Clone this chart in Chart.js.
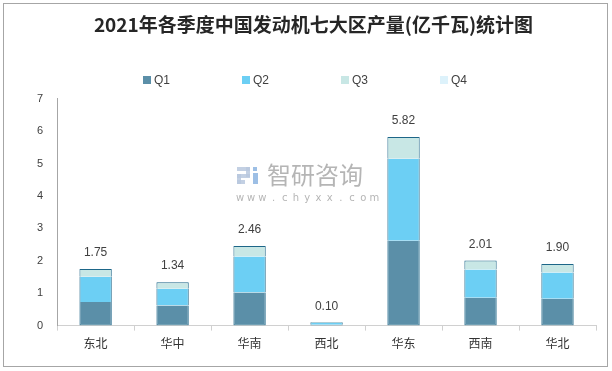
<!DOCTYPE html>
<html>
<head>
<meta charset="utf-8">
<script src="https://cdn.jsdelivr.net/npm/chart.js@4.4.1/dist/chart.umd.min.js"></script>
<style>
  html, body { margin: 0; padding: 0; background: #fff; }
  #wrap { width: 612px; height: 371px; position: relative; }
</style>
</head>
<body>
<div id="wrap"><canvas id="chart" width="612" height="371"></canvas></div>
<script>
// 2021年各季度 七大区 发动机产量 (亿千瓦)
const regions = ['东北', '华中', '华南', '西北', '华东', '西南', '华北'];
const q1 = [0.73, 0.62, 1.02, 0.03, 2.62, 0.86, 0.83];
const q2 = [0.78, 0.52, 1.11, 0.05, 2.53, 0.87, 0.81];
const q3 = [0.24, 0.20, 0.33, 0.02, 0.67, 0.28, 0.26];
const q4 = [0, 0, 0, 0, 0, 0, 0];
const totals = ['1.75', '1.34', '2.46', '0.10', '5.82', '2.01', '1.90'];
const yTicks = [0, 1, 2, 3, 4, 5, 6, 7];

const edge = '#1d6688';

// frame + watermark
const background = {
    id: 'background',
    beforeDraw(chart) {
        const ctx = chart.ctx;
        ctx.save();
        ctx.fillStyle = '#fff';
        ctx.fillRect(0, 0, chart.width, chart.height);
        ctx.strokeStyle = '#a6a6a6';
        ctx.lineWidth = 1;
        ctx.strokeRect(3.5, 3.5, 604, 363);
        // watermark logo (rough)
        ctx.fillStyle = 'rgba(185,200,222,0.85)';
        ctx.fillRect(237, 167, 13, 4);
        ctx.fillRect(246, 167, 4, 10);
        ctx.fillRect(237, 174, 13, 4);
        ctx.fillRect(237, 174, 4, 10);
        ctx.fillRect(237, 180, 8, 4);
        ctx.fillStyle = 'rgba(140,180,225,0.85)';
        ctx.fillRect(253, 167, 4, 4);
        ctx.fillRect(253, 173, 5, 11);
        ctx.fillStyle = 'rgba(150,150,150,0.7)';
        ctx.font = '24px "Noto Sans CJK SC"';
        ctx.textBaseline = 'middle';
        ctx.fillText('智研咨询', 267, 175);
        ctx.font = '10px "DejaVu Sans"';
        ctx.textAlign = 'center';
        const url = 'www.chyxx.com';
        for (let i = 0; i < url.length; i++) {
            ctx.fillText(url[i], 240 + i * 11.2, 198);
        }
        ctx.restore();
    }
};

// legend + total labels
const overlay = {
    id: 'overlay',
    afterDatasetsDraw(chart) {
        const ctx = chart.ctx;
        ctx.save();
        // legend
        ctx.font = '12px "Liberation Sans"';
        ctx.textBaseline = 'middle';
        ctx.textAlign = 'left';
        chart.data.datasets.forEach(function (ds, i) {
            const x = 143 + i * 99;
            ctx.fillStyle = ds.backgroundColor;
            ctx.fillRect(x, 76, 8, 8);
            ctx.fillStyle = '#404040';
            ctx.fillText(ds.label, x + 11, 80.5);
        });
        // totals
        const top = chart.getDatasetMeta(2).data;
        ctx.fillStyle = '#404040';
        ctx.font = '12px "Liberation Sans"';
        ctx.textAlign = 'center';
        top.forEach(function (bar, i) {
            ctx.fillText(totals[i], bar.x, bar.y - 16);
        });
        ctx.restore();
    }
};

new Chart(document.getElementById('chart'), {
    type: 'bar',
    data: {
        labels: regions,
        datasets: [
            {
                label: 'Q1', data: q1, backgroundColor: '#5b8fa8', borderColor: edge,
                borderWidth: { left: 1, right: 1, bottom: 1, top: 0 }
            },
            {
                label: 'Q2', data: q2, backgroundColor: '#6ccff4', borderColor: edge,
                borderWidth: { left: 1, right: 1, bottom: 0, top: 0 }
            },
            {
                label: 'Q3', data: q3, backgroundColor: '#c8e7e5', borderColor: edge,
                borderWidth: { left: 1, right: 1, bottom: 0, top: 1 }
            },
            {
                label: 'Q4', data: q4, backgroundColor: '#ddf2fb', borderColor: edge,
                borderWidth: 0
            }
        ]
    },
    options: {
        responsive: false,
        animation: false,
        layout: { padding: { left: 31, right: 16, top: 8, bottom: 14 } },
        datasets: {
            bar: { barPercentage: 0.42, categoryPercentage: 1, borderSkipped: false }
        },
        plugins: {
            title: {
                display: true,
                text: '2021年各季度中国发动机七大区产量(亿千瓦)统计图',
                color: '#262626',
                font: { family: '"Noto Sans CJK SC"', size: 19, weight: 'bold' },
                padding: { top: 5, bottom: 63 }
            },
            legend: { display: false },
            tooltip: { enabled: false }
        },
        scales: {
            x: {
                stacked: true,
                grid: {
                    display: true, drawOnChartArea: false, drawTicks: true,
                    tickLength: 5, color: '#d0d0d0', offset: true
                },
                border: { display: true, color: '#d0d0d0' },
                ticks: {
                    color: '#333',
                    padding: 6,
                    font: { family: '"Noto Sans CJK SC"', size: 12 }
                }
            },
            y: {
                stacked: true,
                min: 0,
                max: 7,
                afterBuildTicks(axis) {
                    axis.ticks = yTicks.map(function (v) { return { value: v }; });
                },
                grid: { display: false },
                border: { display: true, color: '#a6a6a6' },
                ticks: {
                    color: '#404040',
                    padding: 6,
                    font: { family: '"Liberation Sans"', size: 11 }
                }
            }
        }
    },
    plugins: [background, overlay]
});
</script>
</body>
</html>
